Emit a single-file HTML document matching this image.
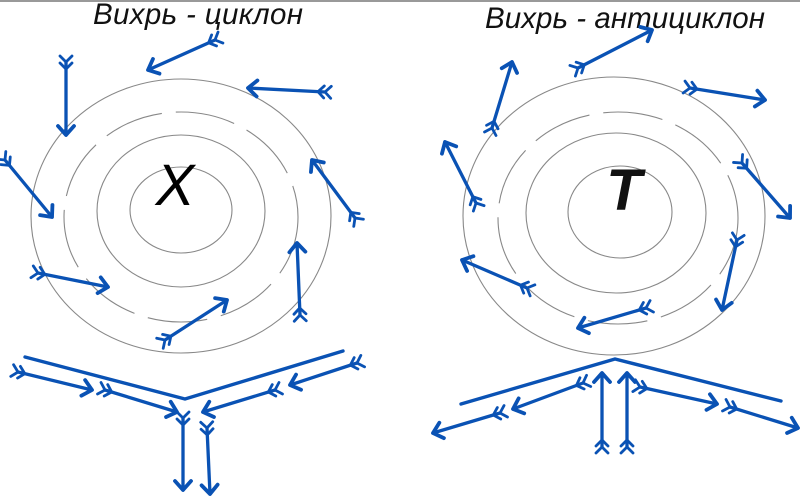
<!DOCTYPE html>
<html><head><meta charset="utf-8"><style>
html,body{margin:0;padding:0;background:#fff;width:800px;height:501px;overflow:hidden}
svg{display:block}
</style></head><body>
<svg width="800" height="501" viewBox="0 0 800 501" xmlns="http://www.w3.org/2000/svg">
<defs>
<marker id="h" markerUnits="userSpaceOnUse" markerWidth="30" markerHeight="30" refX="15" refY="15" orient="auto" viewBox="0 0 30 30">
<path d="M6,7 L15,15 L6,23" fill="none" stroke="#0a52b4" stroke-width="3.8" stroke-linecap="round" stroke-linejoin="round"/>
</marker>
<marker id="t" markerUnits="userSpaceOnUse" markerWidth="30" markerHeight="30" refX="15" refY="15" orient="auto" viewBox="0 0 30 30">
<path d="M16,9 L22,15 L16,21 M9,9 L15,15 L9,21" fill="none" stroke="#0a52b4" stroke-width="2.8" stroke-linecap="round" stroke-linejoin="round"/>
</marker>
</defs>
<line x1="0" y1="1" x2="800" y2="1" stroke="#999" stroke-width="2"/>
<g fill="none" stroke="#888" stroke-width="1.1">
<ellipse cx="181" cy="210" rx="51" ry="43"/>
<ellipse cx="181" cy="211" rx="84" ry="76"/>
<ellipse cx="181" cy="217" rx="117" ry="105" stroke-dasharray="60 14"/>
<ellipse cx="181" cy="216" rx="150" ry="137"/>
<ellipse cx="620" cy="212" rx="52" ry="46"/>
<ellipse cx="616" cy="213" rx="90" ry="80"/>
<ellipse cx="618" cy="218" rx="120" ry="106" stroke-dasharray="60 14"/>
<ellipse cx="614" cy="216" rx="151" ry="139"/>
</g>
<text x="93" y="24" font-family="Liberation Sans, sans-serif" font-style="italic" font-size="29.5" textLength="210" fill="#111">Вихрь - циклон</text>
<text x="485" y="28" font-family="Liberation Sans, sans-serif" font-style="italic" font-size="29.5" textLength="280" fill="#111">Вихрь - антициклон</text>
<text x="175" y="205" text-anchor="middle" font-family="Liberation Sans, sans-serif" font-style="italic" font-size="58" fill="#000">X</text>
<text x="624" y="210" text-anchor="middle" font-family="Liberation Sans, sans-serif" font-style="italic" font-weight="bold" font-size="58" fill="#111">T</text>
<g stroke="#0a52b4" stroke-width="3.3" stroke-linecap="round" marker-start="url(#t)" marker-end="url(#h)">
<line x1="215" y1="40" x2="148" y2="70"/>
<line x1="325" y1="92" x2="248" y2="88"/>
<line x1="66" y1="62" x2="66" y2="135"/>
<line x1="5" y1="160" x2="52" y2="217"/>
<line x1="355" y1="218" x2="312" y2="160"/>
<line x1="38" y1="273" x2="108" y2="287"/>
<line x1="300" y1="315" x2="297" y2="243"/>
<line x1="165" y1="340" x2="227" y2="300"/>
<line x1="18" y1="372" x2="92" y2="390"/>
<line x1="105" y1="390" x2="177" y2="412"/>
<line x1="357" y1="363" x2="290" y2="385"/>
<line x1="275" y1="390" x2="203" y2="412"/>
<line x1="183" y1="418" x2="183" y2="490"/>
<line x1="207" y1="428" x2="210" y2="494"/>
<line x1="578" y1="68" x2="652" y2="30"/>
<line x1="492" y1="128" x2="512" y2="62"/>
<line x1="476" y1="203" x2="445" y2="142"/>
<line x1="527" y1="288" x2="462" y2="260"/>
<line x1="646" y1="308" x2="578" y2="328"/>
<line x1="737" y1="240" x2="722" y2="310"/>
<line x1="742" y1="163" x2="790" y2="218"/>
<line x1="690" y1="88" x2="765" y2="100"/>
<line x1="583" y1="383" x2="513" y2="409"/>
<line x1="500" y1="413" x2="433" y2="433"/>
<line x1="640" y1="387" x2="717" y2="404"/>
<line x1="730" y1="407" x2="798" y2="428"/>
<line x1="602" y1="447" x2="602" y2="373"/>
<line x1="627" y1="447" x2="627" y2="373"/>
</g>
<g fill="none" stroke="#0a52b4" stroke-width="3.4" stroke-linecap="round" stroke-linejoin="miter">
<polyline points="25,357 185,399 343,351"/>
<polyline points="461,404 615,359 781,401"/>
</g>
</svg>
</body></html>
